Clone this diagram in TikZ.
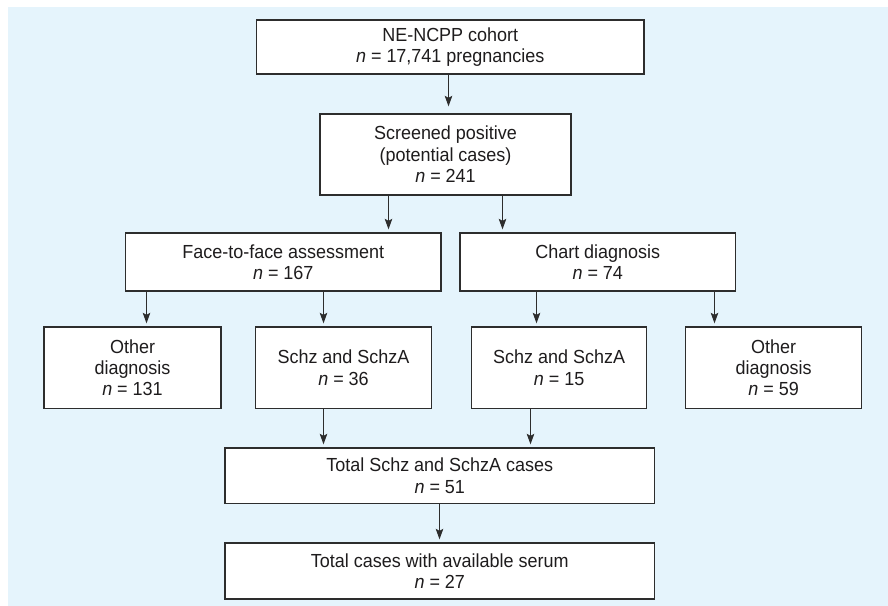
\documentclass[tikz,border=0pt]{standalone}
\usepackage{fontspec}
\setmainfont{Liberation Sans}[FakeStretch=0.95]
\usetikzlibrary{arrows.meta}
\definecolor{bgblue}{RGB}{229,244,252}
\definecolor{edge}{RGB}{45,45,45}
\definecolor{ink}{RGB}{30,28,29}
\begin{document}
\begin{tikzpicture}[x=1bp,y=-1bp,
  box/.style={draw=edge, line width=1.3bp, fill=white, inner sep=0pt, align=center,
    text=ink, font=\fontsize{19}{21.5}\selectfont},
  arr/.style={draw=edge, line width=1.1bp, -{Stealth[length=10.5bp,width=7.5bp,inset=2bp]},
    shorten >=3bp}]
\useasboundingbox (0,0) rectangle (888,606);
\fill[bgblue] (8,7.5) rectangle (888,606);

\node[box, minimum width=387.5bp, minimum height=54bp] (b1) at (450.25,47)
  {NE-NCPP cohort\\\textit{n} = 17,741 pregnancies};
\node[box, minimum width=251bp, minimum height=81bp] (b2) at (445.5,154.5)
  {Screened positive\\(potential cases)\\\textit{n} = 241};
\node[box, minimum width=315.5bp, minimum height=58bp] (b3) at (283.25,262)
  {Face-to-face assessment\\\textit{n} = 167};
\node[box, minimum width=275.5bp, minimum height=58bp] (b4) at (597.75,262)
  {Chart diagnosis\\\textit{n} = 74};
\node[box, minimum width=177bp, minimum height=81.5bp] (b5) at (132.5,367.75)
  {Other\\diagnosis\\\textit{n} = 131};
\node[box, minimum width=176bp, minimum height=81.5bp] (b6) at (343.5,367.75)
  {Schz and SchzA\\\textit{n} = 36};
\node[box, minimum width=175.2bp, minimum height=81.5bp] (b7) at (559.1,367.75)
  {Schz and SchzA\\\textit{n} = 15};
\node[box, minimum width=176bp, minimum height=81.5bp] (b8) at (773.7,367.75)
  {Other\\diagnosis\\\textit{n} = 59};
\node[box, minimum width=429.5bp, minimum height=55.5bp] (b9) at (439.75,475.75)
  {Total Schz and SchzA cases\\\textit{n} = 51};
\node[box, minimum width=429.5bp, minimum height=56bp] (b10) at (439.75,571)
  {Total cases with available serum\\\textit{n} = 27};

\draw[arr, shorten >=7bp] (b1.south -| 448.5,0) -- (b2.north -| 448.5,0);
\draw[arr] (b2.south -| 388.5,0) -- (b3.north -| 388.5,0);
\draw[arr] (b2.south -| 502.5,0) -- (b4.north -| 502.5,0);
\draw[arr] (b3.south -| 146.5,0) -- (b5.north -| 146.5,0);
\draw[arr] (b3.south -| 323.5,0) -- (b6.north -| 323.5,0);
\draw[arr] (b4.south -| 536.5,0) -- (b7.north -| 536.5,0);
\draw[arr] (b4.south -| 714.5,0) -- (b8.north -| 714.5,0);
\draw[arr] (b6.south -| 323.5,0) -- (b9.north -| 323.5,0);
\draw[arr] (b7.south -| 530.5,0) -- (b9.north -| 530.5,0);
\draw[arr] (b9.south -| 439.5,0) -- (b10.north -| 439.5,0);
\end{tikzpicture}
\end{document}
